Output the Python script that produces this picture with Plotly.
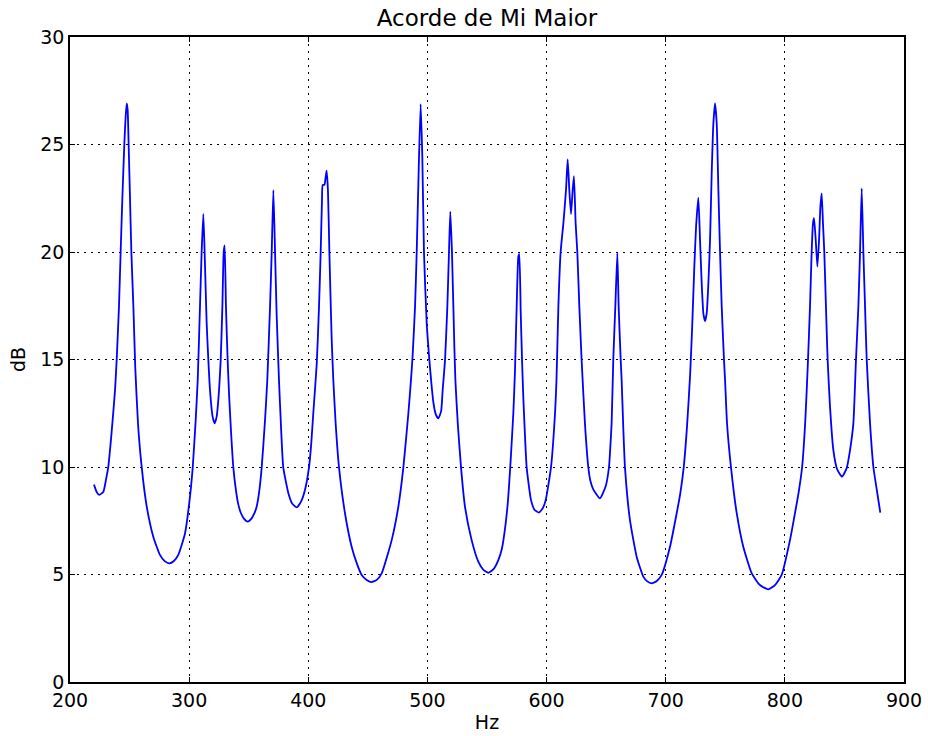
import plotly.graph_objects as go

# Frequency (Hz) and level (dB)
hz = [
    220.1, 222.4, 224.6, 228.0, 230.2, 232.2, 234.1, 235.8, 237.8, 239.2, 241.1, 242.5, 243.9, 245.6, 246.7, 247.6,
    248.4, 249.2, 250.4, 251.5, 253.2, 254.8, 257.1, 260.2, 264.4, 269.9, 275.5, 279.5, 283.4, 287.2, 290.9, 296.5,
    300.7, 303.0, 305.5, 307.2, 309.1, 310.5, 311.9,
    313.0, 314.7, 316.1, 317.5, 319.7, 321.4, 323.1, 325.1, 326.5, 327.9, 329.0, 329.8,
    330.9, 332.3, 333.5, 335.0, 337.1, 339.2, 341.3, 343.5, 346.0, 349.1, 352.3, 354.8, 356.7, 358.9, 360.9, 363.7,
    365.6, 367.9, 369.3, 370.7,
    372.1, 373.5, 375.4, 377.0, 379.0, 383.3, 386.5, 390.3, 394.0, 397.2, 400.6, 402.5, 404.2, 407.1, 409.0, 410.4,
    411.5, 412.1, 413.5, 414.6, 415.4,
    416.5, 417.7, 419.6, 421.0, 423.0, 425.8, 430.8, 436.4, 440.5, 444.8, 449.0, 453.2, 457.5, 461.6, 470.0, 475.6,
    479.8, 484.0, 486.2, 487.6, 489.6, 491.0, 492.6, 494.3,
    495.7, 497.1, 499.4, 501.6, 503.3, 505.0, 507.0, 509.2, 511.5, 512.8, 514.8, 516.7, 518.1, 519.2,
    520.6, 522.6, 523.5, 525.5, 528.2, 531.5, 537.1, 542.7, 547.0, 551.1, 555.5, 559.5, 562.5, 565.5, 567.7, 569.5,
    572.1, 573.5, 574.9, 576.3, 577.1,
    578.3, 579.4, 580.5, 582.0, 583.3, 586.9, 590.0, 593.6, 597.0, 599.3, 603.7, 607.1, 608.3, 609.9, 611.8, 614.1,
    616.3, 617.7,
    619.1, 620.5, 621.9, 623.0,
    624.4, 625.8, 627.5, 629.4, 632.2, 635.0, 636.8, 639.2, 644.8, 649.6, 652.4, 653.2, 654.6, 656.0, 657.7, 659.4,
    660.5, 662.2, 663.0, 664.4, 665.8, 670.0, 675.6, 681.2, 684.5, 688.2, 692.5, 696.6, 703.6, 709.2, 712.3, 715.1,
    717.9, 720.5, 722.2, 724.0, 725.5, 727.4,
    728.8, 730.2, 731.6, 733.0, 734.4, 735.8, 737.2, 738.6, 740.0, 741.4,
    742.8, 744.2, 745.6, 747.0, 748.9, 749.8, 751.5, 754.8, 759.6, 765.1, 772.2, 779.1, 786.1, 791.7, 797.3, 804.3,
    808.0, 811.5, 814.5, 817.2, 819.3, 821.1, 822.5, 823.6, 824.5,
    825.9, 827.3, 828.7, 829.8, 830.9,
    832.0, 833.1, 834.5, 835.9, 837.9, 840.7, 844.0, 848.0, 851.9, 854.7, 857.5, 859.7, 861.7, 863.1, 864.5,
    865.9, 867.3, 868.7, 871.5, 874.3, 877.1, 880.1,
]
db = [
    9.18, 8.84, 8.70, 8.85, 9.41, 10.03, 11.10, 12.19, 13.58, 15.00, 17.46, 20.00, 22.42, 25.02, 26.29, 26.91,
    26.60, 25.02, 22.42, 20.00, 17.46, 14.60, 12.00, 9.98, 8.16, 6.76, 5.91, 5.62, 5.52, 5.63, 5.91, 6.91,
    8.62, 9.98, 12.19, 14.05, 17.46, 20.00, 21.77,
    20.00, 16.68, 15.00, 13.58, 12.34, 12.03, 12.34, 13.58, 15.00, 17.46, 20.00, 20.31,
    17.46, 15.00, 13.40, 11.80, 9.98, 8.95, 8.25, 7.85, 7.60, 7.46, 7.60, 7.85, 8.16, 8.90, 9.98, 12.19,
    14.05, 17.46, 20.00, 22.88,
    20.00, 17.00, 14.05, 12.00, 9.98, 8.78, 8.30, 8.12, 8.40, 8.93, 9.98, 11.10, 12.50, 14.80, 17.46, 20.00,
    22.42, 23.12, 23.12, 23.50, 23.78,
    22.88, 20.00, 16.00, 14.05, 12.00, 9.98, 7.85, 6.29, 5.55, 4.98, 4.75, 4.65, 4.75, 5.05, 6.60, 8.16,
    9.98, 12.50, 14.05, 15.20, 17.46, 20.00, 23.66, 26.88,
    24.43, 20.00, 16.68, 15.00, 13.90, 13.00, 12.45, 12.26, 12.60, 13.58, 15.00, 17.46, 20.00, 21.88,
    20.00, 15.60, 14.00, 12.00, 9.98, 8.16, 6.60, 5.60, 5.22, 5.08, 5.25, 5.67, 6.20, 7.30, 8.50, 9.98,
    12.50, 14.50, 17.46, 19.78, 19.91,
    17.20, 15.00, 13.20, 11.30, 9.98, 8.47, 8.00, 7.88, 8.10, 8.47, 9.98, 12.50, 14.00, 17.46, 20.00, 21.33,
    22.88, 24.31,
    22.88, 21.77, 22.88, 23.53,
    21.33, 20.00, 17.46, 15.00, 12.03, 10.00, 9.35, 8.96, 8.54, 9.10, 10.00, 10.64, 12.03, 15.00, 17.46, 19.95,
    17.46, 15.00, 14.05, 11.80, 9.98, 7.53, 5.83, 4.90, 4.68, 4.59, 4.70, 4.98, 6.29, 7.85, 8.80, 9.98,
    11.90, 14.30, 16.50, 19.30, 21.20, 22.53,
    20.56, 18.54, 17.15, 16.79, 17.15, 18.54, 20.56, 23.66, 25.98, 26.91,
    25.98, 22.88, 20.00, 17.46, 15.00, 14.05, 12.00, 9.98, 7.85, 6.29, 5.05, 4.51, 4.31, 4.51, 4.98, 6.60,
    7.70, 8.80, 10.00, 12.20, 14.80, 17.46, 20.00, 21.33, 21.57,
    20.56, 19.32, 20.56, 22.09, 22.73,
    21.33, 20.00, 17.46, 15.00, 12.81, 10.79, 9.88, 9.55, 9.95, 10.79, 12.03, 15.00, 17.46, 20.00, 22.96,
    20.00, 17.46, 15.00, 12.03, 10.00, 8.96, 7.88,
]

x_ticks = [200, 300, 400, 500, 600, 700, 800, 900]
y_ticks = [0, 5, 10, 15, 20, 25, 30]

fig = go.Figure()
fig.add_trace(go.Scatter(x=hz, y=db, mode="lines",
                         line=dict(color="#0000ff", width=1.8, shape="spline", smoothing=0.5)))

axis_common = dict(
    showline=True, linecolor="black", linewidth=1.5, mirror="ticks",
    ticks="inside", ticklen=5, tickcolor="black", tickwidth=1,
    showgrid=True, gridcolor="black", gridwidth=1, griddash="2px,5px",
    zeroline=False, automargin=False,
    tickfont=dict(family="DejaVu Sans", size=19, color="black"),
)

fig.update_layout(
    width=928, height=736,
    paper_bgcolor="white", plot_bgcolor="white",
    margin=dict(l=70, r=24, t=37, b=54),
    showlegend=False,
    title=dict(text="Acorde de Mi Maior", x=487 / 928, xref="container", xanchor="center",
               y=1 - 18 / 736, yref="container", yanchor="middle",
               font=dict(family="DejaVu Sans", size=23, color="black")),
    xaxis=dict(range=[200, 900], tickvals=x_ticks, ticktext=[str(v) for v in x_ticks],
               title=dict(text="Hz", standoff=6,
                          font=dict(family="DejaVu Sans", size=19, color="black")),
               **axis_common),
    yaxis=dict(range=[0, 30], tickvals=y_ticks, ticktext=[str(v) for v in y_ticks],
               title=dict(text="dB", standoff=10,
                          font=dict(family="DejaVu Sans", size=19, color="black")),
               **axis_common),
)

fig.write_html("out.html", config={"displayModeBar": False},
               post_script="document.body.style.margin='0';document.body.style.padding='0';")
